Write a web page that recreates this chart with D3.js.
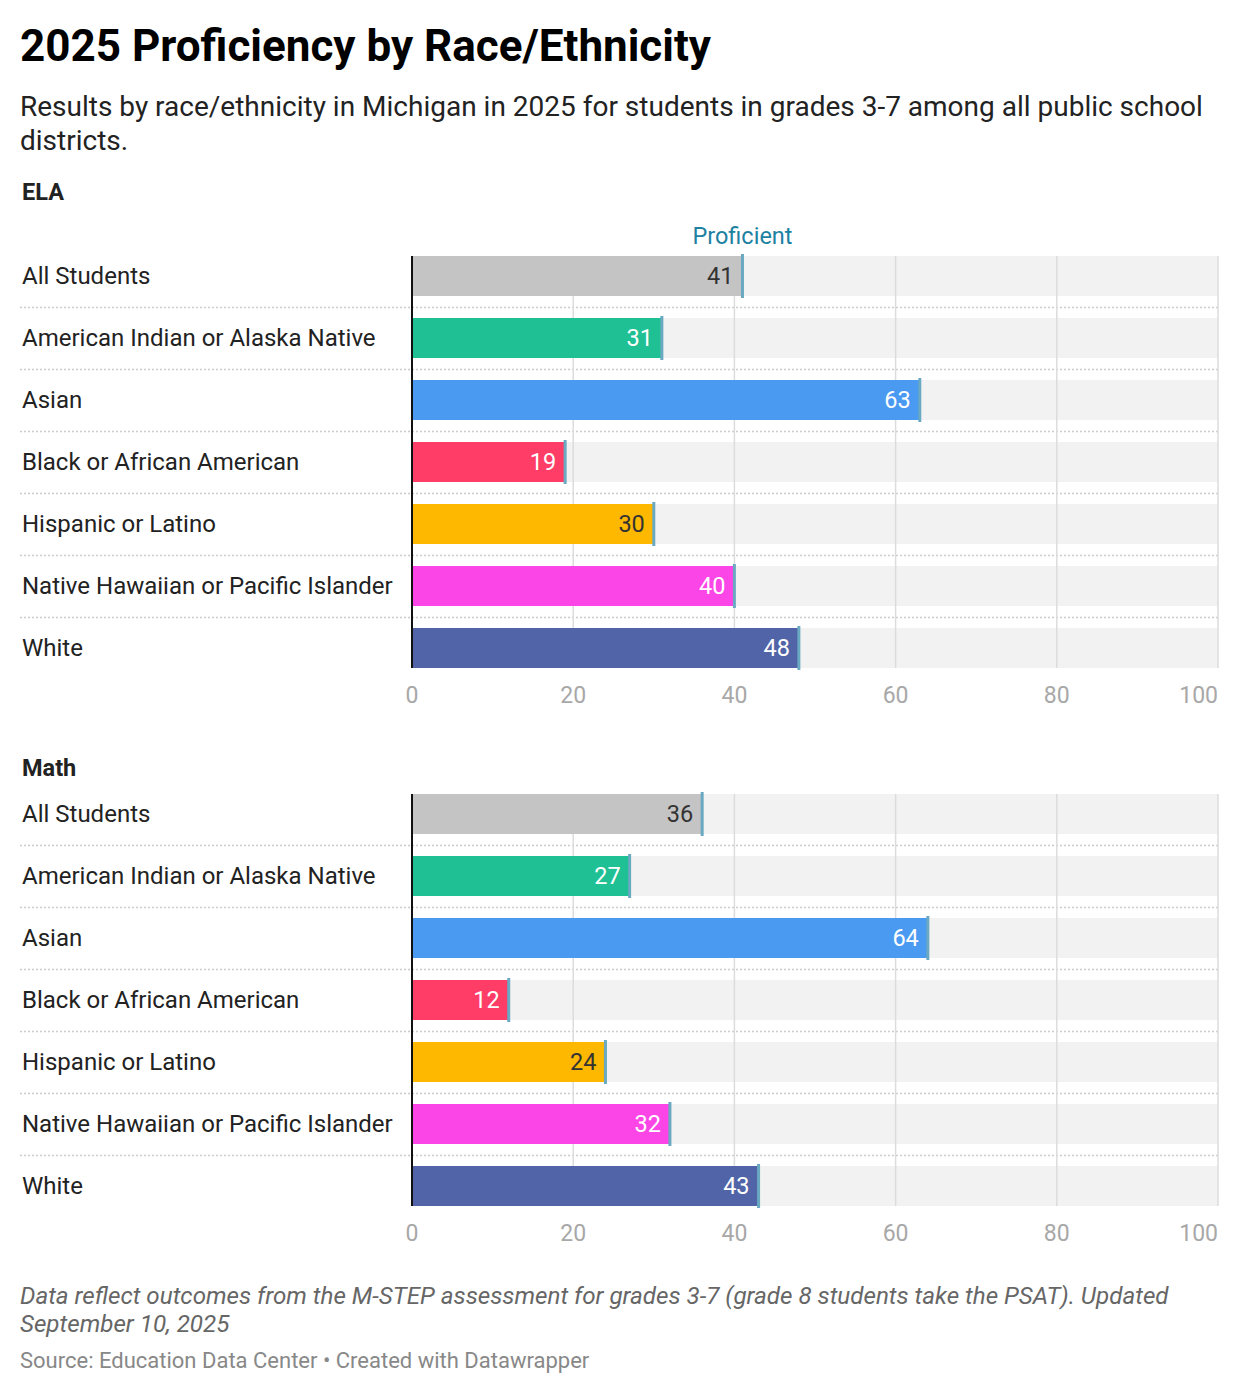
<!DOCTYPE html>
<html>
<head>
<meta charset="utf-8">
<script src="https://cdn.jsdelivr.net/npm/d3@7"></script>
<style>
  body { margin: 0; background: #fff; font-family: Roboto, sans-serif; }
  svg text { font-family: Roboto, sans-serif; }
</style>
</head>
<body>
<div id="canvas"></div>
<script>
var groups = ['All Students', 'American Indian or Alaska Native', 'Asian', 'Black or African American',
              'Hispanic or Latino', 'Native Hawaiian or Pacific Islander', 'White'];
var colors = ['#c4c4c4', '#1fc094', '#4a9af2', '#ff3d67', '#ffb800', '#fb45e6', '#5164a8'];
var labelColors = ['#333', '#fff', '#fff', '#fff', '#333', '#fff', '#fff'];
var elaValues = [41, 31, 63, 19, 30, 40, 48];
var mathValues = [36, 27, 64, 12, 24, 32, 43];
var ticks = [0, 20, 40, 60, 80, 100];

var W = 1240, H = 1394;

var svg = d3.select('#canvas').append('svg')
    .attr('width', W).attr('height', H);

// header
svg.append('text').attr('x', 20).attr('y', 61)
    .style('font-size', '44px').style('font-weight', 700).style('fill', '#000')
    .text('2025 Proficiency by Race/Ethnicity');
svg.append('text').attr('x', 20).attr('y', 116)
    .style('font-size', '28px').style('fill', '#222')
    .text('Results by race/ethnicity in Michigan in 2025 for students in grades 3-7 among all public school');
svg.append('text').attr('x', 20).attr('y', 150)
    .style('font-size', '28px').style('fill', '#222')
    .text('districts.');

var x = d3.scaleLinear().domain([0, 100]).range([412, 1218]);

function drawPanel(title, values, top, showHeader) {
    var g = svg.append('g');
    var rowH = 62, barH = 40;
    var y = d3.scaleBand().domain(groups).range([top, top + rowH * groups.length]).paddingInner(0);

    g.append('text').attr('x', 22).attr('y', showHeader ? top - 56 : top - 18)
        .style('font-size', '23.5px').style('font-weight', 700).style('fill', '#222')
        .text(title);

    // background bars
    g.selectAll('.bg').data(groups).enter().append('rect')
        .attr('x', x(0)).attr('width', x(100) - x(0))
        .attr('y', function(d) { return y(d); }).attr('height', barH)
        .style('fill', '#f2f2f2');

    // separators
    g.selectAll('.sep').data(groups.slice(1)).enter().append('line')
        .attr('x1', 20).attr('x2', 1218)
        .attr('y1', function(d) { return y(d) - 10.5; })
        .attr('y2', function(d) { return y(d) - 10.5; })
        .style('stroke', '#ccc').style('stroke-width', 1.5).style('stroke-dasharray', '2,2');

    // gridlines
    var bottom = y(groups[groups.length - 1]) + barH;
    g.selectAll('.grid').data(ticks.slice(1)).enter().append('line')
        .attr('x1', function(d) { return x(d); }).attr('x2', function(d) { return x(d); })
        .attr('y1', top).attr('y2', bottom)
        .style('stroke', '#dcdcdc').style('stroke-width', 1.5);

    // row labels
    g.selectAll('.lab').data(groups).enter().append('text')
        .attr('x', 22).attr('y', function(d) { return y(d) + barH / 2 + 7.5; })
        .style('font-size', '24px').style('fill', '#222')
        .text(function(d) { return d; });

    // bars
    g.selectAll('.bar').data(values).enter().append('rect')
        .attr('x', x(0)).attr('y', function(d, i) { return y(groups[i]); })
        .attr('width', function(d) { return x(d) - x(0); }).attr('height', barH)
        .style('fill', function(d, i) { return colors[i]; });

    // value labels
    g.selectAll('.val').data(values).enter().append('text')
        .attr('x', function(d) { return x(d) - 9; })
        .attr('y', function(d, i) { return y(groups[i]) + barH / 2 + 7.5; })
        .attr('text-anchor', 'end')
        .style('font-size', '23.5px').style('fill', function(d, i) { return labelColors[i]; })
        .text(function(d) { return d; });

    // markers
    g.selectAll('.mark').data(values).enter().append('rect')
        .attr('x', function(d) { return x(d) - 1.5; }).attr('width', 3)
        .attr('y', function(d, i) { return y(groups[i]) - 2; }).attr('height', barH + 4)
        .style('fill', '#6aa9c2');

    if (showHeader) {
        g.append('text').attr('x', x(values[0])).attr('y', top - 12)
            .attr('text-anchor', 'middle')
            .style('font-size', '23.5px').style('fill', '#1d81a2')
            .text('Proficient');
    }

    // left axis line
    g.append('line').attr('x1', x(0)).attr('x2', x(0))
        .attr('y1', top).attr('y2', bottom)
        .style('stroke', '#111').style('stroke-width', 2);

    // tick labels
    g.selectAll('.tick').data(ticks).enter().append('text')
        .attr('x', function(d) { return x(d); })
        .attr('y', bottom + 35)
        .attr('text-anchor', function(d, i) { return i === ticks.length - 1 ? 'end' : 'middle'; })
        .style('font-size', '23px').style('fill', '#a8a8a8')
        .text(function(d) { return d; });
}

drawPanel('ELA', elaValues, 256, true);
drawPanel('Math', mathValues, 794, false);

// footer
svg.append('text').attr('x', 20).attr('y', 1304)
    .style('font-size', '24.2px').style('font-style', 'italic').style('fill', '#666')
    .text('Data reflect outcomes from the M-STEP assessment for grades 3-7 (grade 8 students take the PSAT). Updated');
svg.append('text').attr('x', 20).attr('y', 1332)
    .style('font-size', '24.2px').style('font-style', 'italic').style('fill', '#666')
    .text('September 10, 2025');
svg.append('text').attr('x', 20).attr('y', 1368)
    .style('font-size', '22px').style('fill', '#888')
    .text('Source: Education Data Center \u2022 Created with Datawrapper');
</script>
</body>
</html>
